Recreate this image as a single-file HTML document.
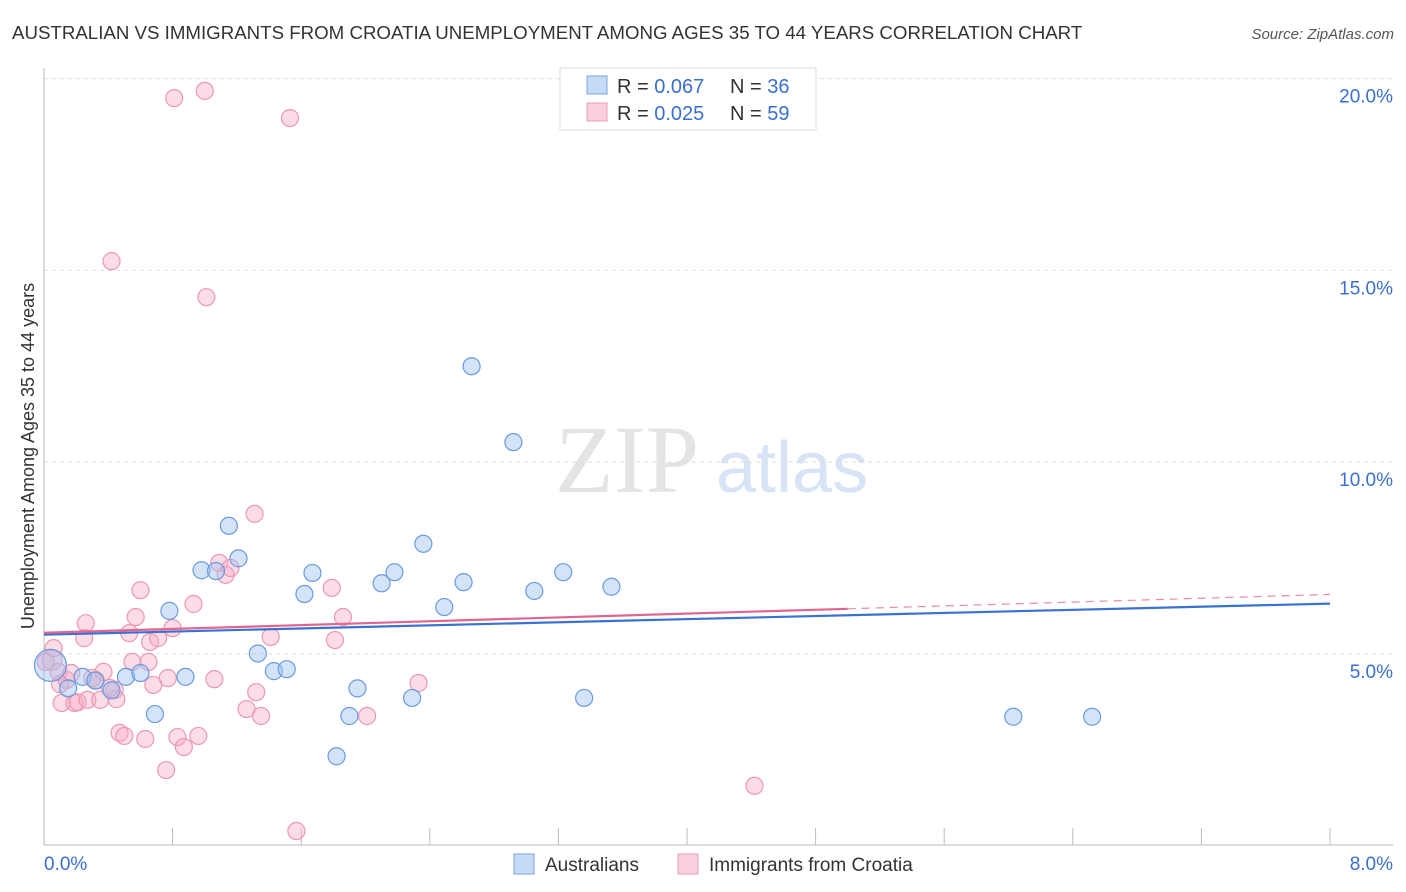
<!DOCTYPE html>
<html><head><meta charset="utf-8"><style>
body{margin:0;background:#fff;font-family:"Liberation Sans",sans-serif}
svg{display:block}
</style></head><body>
<svg id="c" width="1406" height="892">
<text x="12" y="39" font-size="18.7" fill="#333">AUSTRALIAN VS IMMIGRANTS FROM CROATIA UNEMPLOYMENT AMONG AGES 35 TO 44 YEARS CORRELATION CHART</text>
<text x="1394" y="39" font-size="15" fill="#555" font-style="italic" text-anchor="end">Source: ZipAtlas.com</text>
<text x="555" y="492" font-size="96" fill="#e4e4e4" font-family="Liberation Serif">ZIP</text>
<text x="716" y="492" font-size="72" fill="#d6e4f5">atlas</text>
<text transform="translate(34,456) rotate(-90)" font-size="18" fill="#333" text-anchor="middle">Unemployment Among Ages 35 to 44 years</text>
<g id="grid"></g><g id="marks"></g>
<g>
<rect x="560" y="68" width="256" height="62" fill="#fff" stroke="#ddd"/>
<rect x="587" y="76" width="20" height="18" fill="#c5daf5" stroke="#7aa6e0"/>
<rect x="587" y="103" width="20" height="18" fill="#fbd0dc" stroke="#eb9ab3"/>
<text x="617" y="93" font-size="20" fill="#333">R = <tspan fill="#3a6fd0">0.067</tspan></text>
<text x="730" y="93" font-size="20" fill="#333">N = <tspan fill="#3a6fd0">36</tspan></text>
<text x="617" y="120" font-size="20" fill="#333">R = <tspan fill="#3a6fd0">0.025</tspan></text>
<text x="730" y="120" font-size="20" fill="#333">N = <tspan fill="#3a6fd0">59</tspan></text>
</g>
<g>
<rect x="514" y="854" width="20" height="20" fill="#c5daf5" stroke="#7aa6e0"/>
<text x="545" y="871" font-size="19" fill="#333">Australians</text>
<rect x="678" y="854" width="20" height="20" fill="#fbd0dc" stroke="#eb9ab3"/>
<text x="709" y="871" font-size="19" fill="#333">Immigrants from Croatia</text>
</g>
</svg>
<script>
const blueX=[0.04,0.15,0.24,0.32,0.42,0.51,0.60,0.69,0.78,0.88,0.98,1.07,1.15,1.21,1.33,1.43,1.51,1.62,1.67,1.82,1.90,1.95,2.10,2.18,2.29,2.36,2.49,2.61,2.66,2.92,3.05,3.23,3.36,3.53,6.03,6.52];
const blueY=[4.7,4.1,4.4,4.3,4.05,4.4,4.5,3.43,6.12,4.4,7.18,7.16,8.34,7.49,5.01,4.55,4.6,6.56,7.11,2.33,3.38,4.10,6.84,7.13,3.85,7.87,6.22,6.87,12.5,10.52,6.64,7.13,3.85,6.75,3.36,3.36];
const pinkX=[0.05,0.06,0.10,0.11,0.14,0.19,0.21,0.25,0.26,0.27,0.32,0.35,0.37,0.42,0.44,0.45,0.47,0.50,0.53,0.55,0.57,0.60,0.63,0.65,0.66,0.68,0.71,0.76,0.77,0.80,0.81,0.83,0.87,0.93,0.96,1.00,1.01,1.06,1.09,1.13,1.16,1.26,1.31,1.32,1.35,1.41,1.53,1.57,1.79,1.81,1.86,2.01,2.33,4.42,0.01,0.09,0.17,0.30,0.41];
const pinkY=[4.84,5.15,4.21,3.72,4.32,3.72,3.74,5.41,5.80,3.80,4.32,3.80,4.53,15.24,4.06,3.82,2.94,2.86,5.54,4.79,5.96,6.66,2.78,4.79,5.31,4.19,5.41,1.97,4.37,5.67,19.49,2.83,2.57,6.30,2.86,19.68,14.30,4.34,7.37,7.06,7.24,3.56,8.65,4.00,3.38,5.44,18.97,0.38,6.72,5.36,5.96,3.38,4.24,1.56,4.79,4.53,4.50,4.37,4.11];
const yTicks=[5,10,15,20];
const blueTrend=[5.50,6.31], pinkTrend=[5.55,6.55];
const X=v=>44+v*160.75, Y=v=>845.6-v*38.35, NS="http://www.w3.org/2000/svg";
const g=document.getElementById('grid'), m=document.getElementById('marks');
function el(t,a,p){const e=document.createElementNS(NS,t);for(const k in a)e.setAttribute(k,a[k]);p.appendChild(e);return e;}
yTicks.forEach(t=>{el('line',{x1:44,x2:1393,y1:Y(t),y2:Y(t),stroke:'#ddd','stroke-dasharray':'4,4'},g);
const tx=el('text',{x:1393,y:Y(t)+24,'font-size':19,fill:'#3a6fd0','text-anchor':'end'},g);tx.textContent=t.toFixed(1)+'%';

});
el('line',{x1:44,x2:44,y1:68,y2:845,stroke:'#bbb'},g);
el('line',{x1:44,x2:1393,y1:845,y2:845,stroke:'#bbb'},g);
for(let i=0;i<=10;i++)el('line',{x1:X(i*0.8),x2:X(i*0.8),y1:828,y2:845,stroke:'#bbb'},g);
[[0,'0.0%','start',44],[8,'8.0%','end',1393]].forEach(a=>{const t=el('text',{x:a[3],y:870,'font-size':19,fill:'#3a6fd0','text-anchor':a[2]},g);t.textContent=a[1];

});
pinkX.forEach((x,i)=>{const c=el('circle',{cx:X(x),cy:Y(pinkY[i]),r:i==0?10:8.5,fill:'rgba(247,170,195,0.4)',stroke:'#ec97b2','stroke-width':1.2},m);

});
blueX.forEach((x,i)=>{const c=el('circle',{cx:X(x),cy:Y(blueY[i]),r:i==0?16:8.5,fill:'rgba(160,195,240,0.45)',stroke:'#6a9ae0','stroke-width':1.2},m);

});
const bl=el('line',{x1:X(0),x2:X(8),y1:Y(blueTrend[0]),y2:Y(blueTrend[1]),stroke:'#3a72d4','stroke-width':2.2},m);


const pm=pinkTrend[0]+(pinkTrend[1]-pinkTrend[0])*5/8;
const pl=el('line',{x1:X(0),x2:X(5),y1:Y(pinkTrend[0]),y2:Y(pm),stroke:'#e0668f','stroke-width':2.2},m);


const pd=el('line',{x1:X(5),x2:X(8),y1:Y(pm),y2:Y(pinkTrend[1]),stroke:'#e88aa8','stroke-width':1.2,'stroke-dasharray':'8,6'},m);


</script>
</body></html>
